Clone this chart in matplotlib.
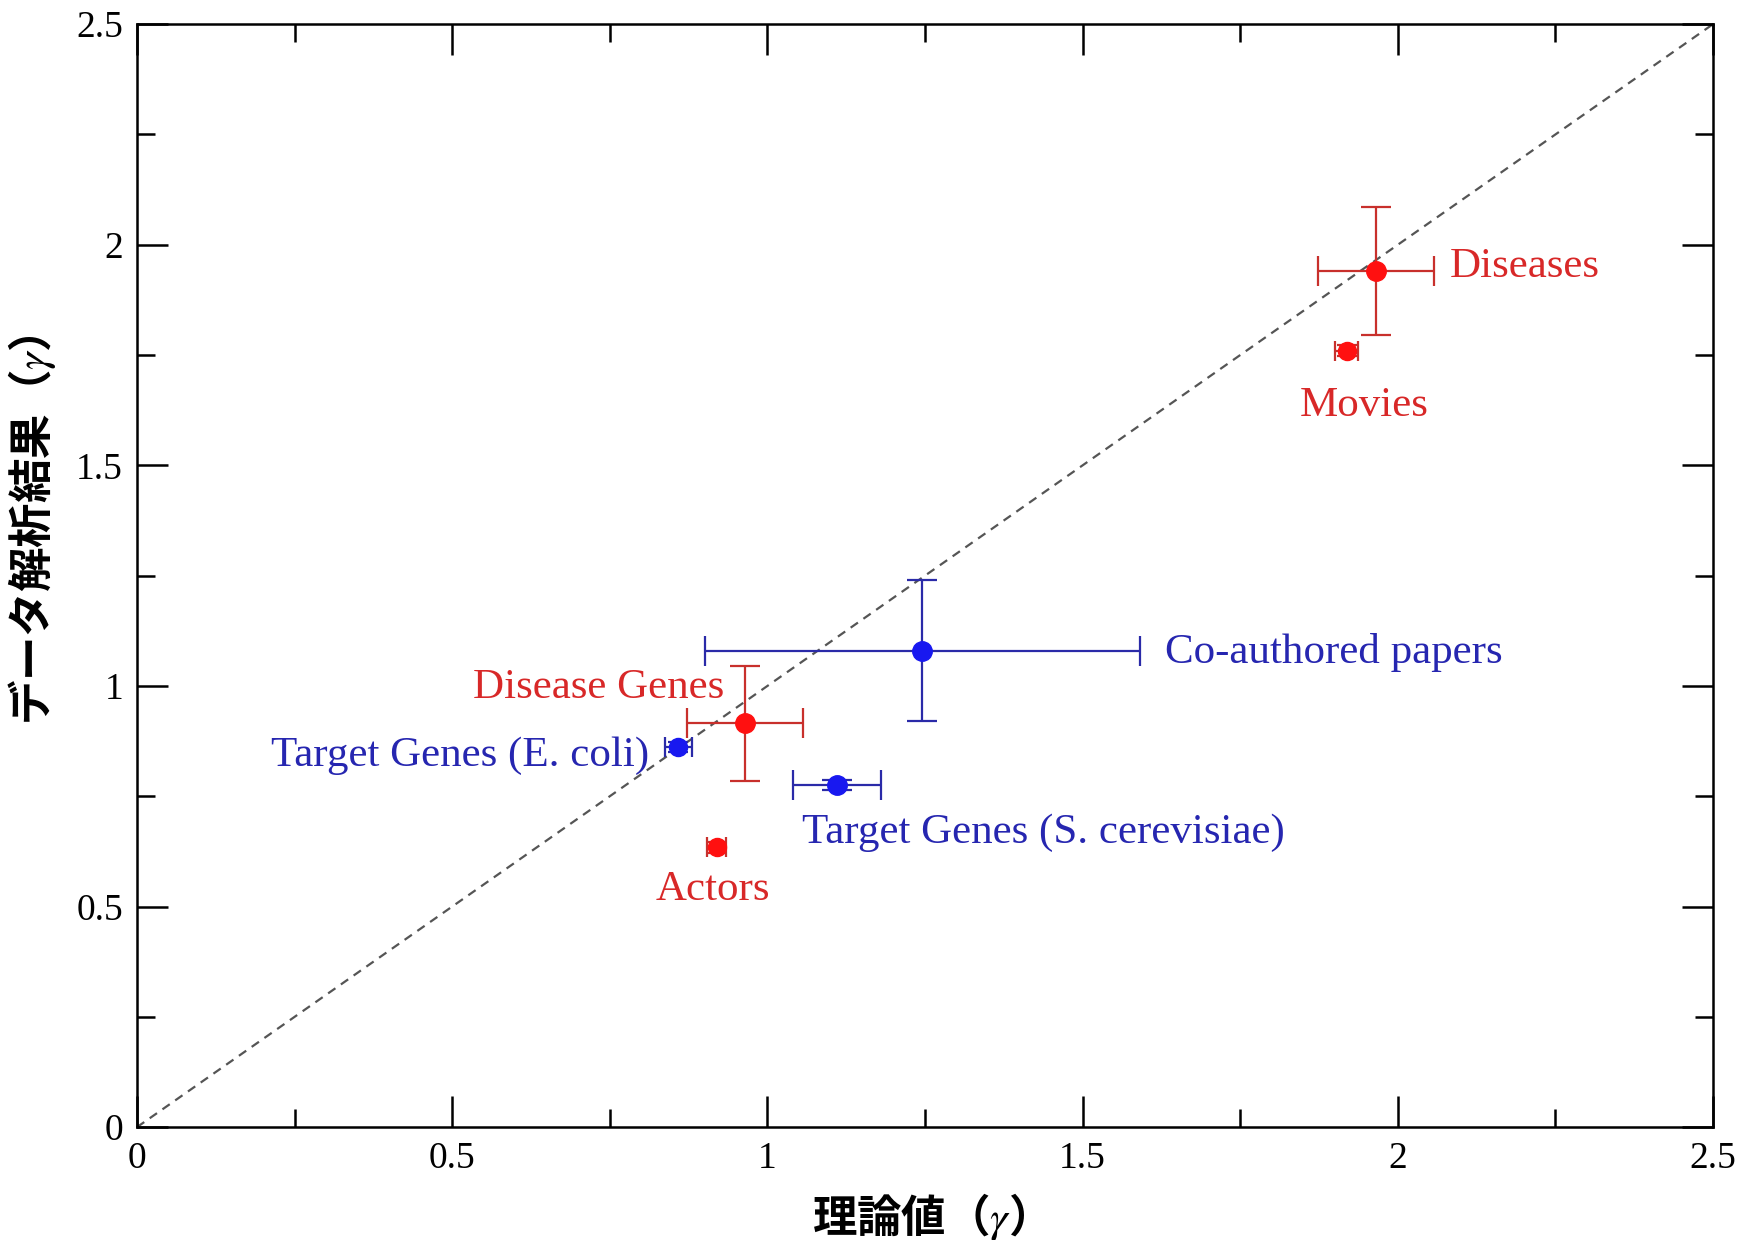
import matplotlib
matplotlib.use('Agg')
import matplotlib.pyplot as plt
from matplotlib.ticker import MultipleLocator

matplotlib.rcParams['mathtext.fontset'] = 'stix'

# data
names = ['Diseases', 'Movies', 'Co-authored papers', 'Disease Genes',
         'Target Genes (E. coli)', 'Target Genes (S. cerevisiae)', 'Actors']
theory = [1.965, 1.919, 1.246, 0.964, 0.859, 1.110, 0.920]
theory_err = [0.092, 0.018, 0.345, 0.092, 0.022, 0.070, 0.015]
measured = [1.940, 1.760, 1.080, 0.915, 0.862, 0.776, 0.634]
measured_err = [0.145, 0.012, 0.160, 0.130, 0.012, 0.012, 0.012]
groups = ['red', 'red', 'blue', 'red', 'blue', 'blue', 'red']

# label anchors (data coords) and alignment
label_x = [2.083, 1.946, 1.630, 0.932, 0.813, 1.055, 0.914]
label_y = [1.950, 1.635, 1.075, 0.996, 0.842, 0.667, 0.538]
label_ha = ['left', 'center', 'left', 'right', 'right', 'left', 'center']

ticks = [0, 0.5, 1, 1.5, 2, 2.5]
tick_labels = ['0', '0.5', '1', '1.5', '2', '2.5']

bar_col = {'red': '#c8302c', 'blue': '#2a2aa8'}
dot_col = {'red': '#ff1010', 'blue': '#1818f0'}
txt_col = {'red': '#d82828', 'blue': '#2626b0'}

fig = plt.figure(figsize=(17.56, 12.40), dpi=100)
ax = fig.add_axes([0.078, 0.091, 0.8975, 0.8895])

ax.plot([0, 2.5], [0, 2.5], ls=(0, (4, 3)), color='#555555', lw=1.6, zorder=1)

for i in range(len(names)):
    g = groups[i]
    big = max(theory_err[i], measured_err[i]) > 0.05
    ax.errorbar(theory[i], measured[i], xerr=theory_err[i], yerr=measured_err[i],
                fmt='o', ms=14 if big else 13, mfc=dot_col[g], mec=dot_col[g],
                ecolor=bar_col[g], elinewidth=1.6, capsize=11 if big else 7,
                capthick=1.6, zorder=3)
    ax.text(label_x[i], label_y[i], names[i], color=txt_col[g], ha=label_ha[i],
            va='center', fontsize=31, family='Liberation Serif')

ax.set_xlim(0, 2.5)
ax.set_ylim(0, 2.5)
ax.set_xticks(ticks)
ax.set_xticklabels(tick_labels)
ax.set_yticks(ticks)
ax.set_yticklabels(tick_labels)
ax.xaxis.set_minor_locator(MultipleLocator(0.25))
ax.yaxis.set_minor_locator(MultipleLocator(0.25))
ax.tick_params(which='both', direction='in', top=True, right=True, width=1.8)
ax.tick_params(which='major', length=22, labelsize=27, pad=10)
ax.tick_params(which='minor', length=13)
for lab in ax.get_xticklabels() + ax.get_yticklabels():
    lab.set_family('Liberation Serif')
for s in ax.spines.values():
    s.set_linewidth(1.8)

ax.set_xlabel('理論値（$\\gamma$）', fontsize=32, fontweight='bold',
              family=['Noto Sans CJK JP', 'DejaVu Sans'])
ax.set_ylabel('データ解析結果（$\\gamma$）', fontsize=32, fontweight='bold',
              family=['Noto Sans CJK JP', 'DejaVu Sans'])
ax.xaxis.set_label_coords(0.496, -0.058)
ax.yaxis.set_label_coords(-0.05, 0.542)

fig.savefig('out.png', dpi=100)
